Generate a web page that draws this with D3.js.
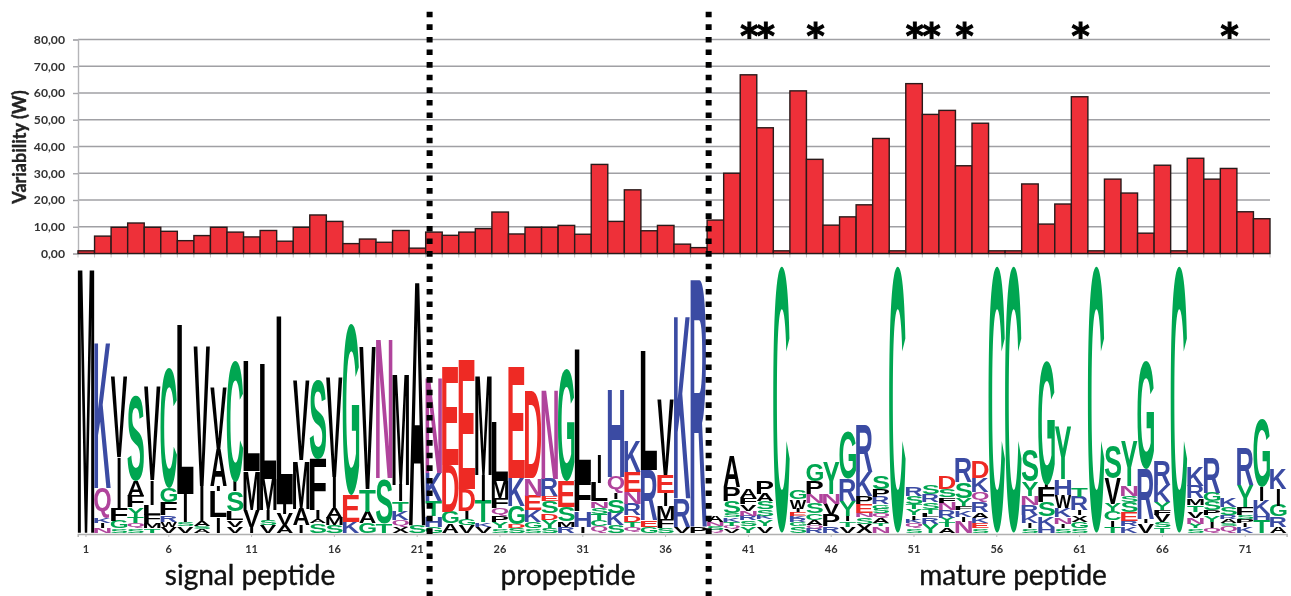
<!doctype html>
<html>
<head>
    <meta charset="UTF-8">
    <title>Variability and sequence logo</title>
    <script src="https://cdn.jsdelivr.net/npm/d3@7"></script>
    <style>
        body { margin: 0; background: #fff; }
        svg { display: block; filter: blur(0.45px); }
        .yaxis text { font-family: Lato, sans-serif; font-weight: 700; font-size: 12.2px; fill: #333; }
        .xaxis text { font-family: Lato, sans-serif; font-weight: 700; font-size: 11px; fill: #333; }
        .ylabel { font-family: Lato, sans-serif; font-weight: 700; font-size: 18px; fill: #222; stroke: #222; stroke-width: 0.4px; }
        .region { font-family: Lato, sans-serif; font-size: 28px; fill: #111; stroke: #111; stroke-width: 0.4px; text-anchor: middle; }
    </style>
</head>
<body>
<script>
    // variability per position (bar chart)
    var barValues = [1, 6.5, 9.8, 11.4, 9.8, 8.3, 4.8, 6.7, 9.8, 8, 6.2, 8.6, 4.6, 9.8, 14.4, 12, 3.7, 5.4, 4.2, 8.6, 2,
        8, 6.8, 8, 9.3, 15.5, 7.3, 9.8, 9.8, 10.5, 7.2, 33.3, 12, 23.8, 8.5, 10.5, 3.5, 2.2,
        12.5, 30, 66.8, 47, 1, 60.8, 35.2, 10.6, 13.7, 18.2, 43, 1, 63.5, 52, 53.5, 32.8, 48.7, 1, 1, 26, 11, 18.5, 58.6, 1,
        27.8, 22.6, 7.6, 33, 1, 35.6, 27.8, 31.8, 15.6, 13];
    var yTicks = [0, 10, 20, 30, 40, 50, 60, 70, 80];
    var starPositions = [41, 42, 45, 51, 52, 54, 61, 70];

    // logo stacks, bottom to top, letter + height in bits
    var logoStacks = [
        "M4.32",
        "N.08 I.08 K.08 Q.49 K2.38",
        "S.07 G.12 F.2 I.84 V1.3",
        "S.07 Q.08 T.11 Y.15 F.19 A.24 S1.38",
        "T.07 M.08 F.14 L.16 I.4 V1.51",
        "V.1 W.08 R.11 F.2 G.24 C1.94",
        "V.11 S.06 I.46 L2.73",
        "A.06 S.05 A.08 I.57 V2.26",
        "I.26 L.41 I.08 A.6 V1",
        "V.1 V.11 L.14 S.32 I.16 C1.97",
        "I.1 V.27 M.63 L1.78",
        "V.12 S.08 I.16 M.51 L1.86",
        "A.12 V.18 I.16 L3.05",
        "I.12 A.27 M.78 V1.29",
        "S.15 A.05 I.16 F.84 S1.27",
        "S.12 M.12 A.16 I.5 V1.62",
        "K.18 E.43 G2.78",
        "G.16 A.18 T.36 V2.3",
        "T.15 S.73 N2.28",
        "X.1 Q.1 K.14 T.17 I.27 M1.8",
        "S.12 A3.99",
        "G.1 H.17 T.24 K.46 N1.55",
        "A.15 G.19 D.76 E1.6",
        "V.12 G.1 I.13 D.35 E2.1",
        "V.1 K.07 T.35 I.41 M1.62",
        "S.07 Y.1 P.1 Q.13 F.16 M.28 L.96",
        "S.08 D.05 G.3 K.46 E1.8",
        "S.07 G.1 K.19 E.24 N.28 D1.42",
        "S.08 Y.12 D.11 S.2 E.08 R.28 N1.46",
        "R.1 M.08 S.24 E.42 G1.81",
        "I.1 H.24 F.5 L2.13",
        "Q.1 C.1 T.1 S.1 N.11 L.3 I.46",
        "S.12 K.2 S.22 I.1 Q.27 H1.43",
        "Q.09 T.09 D.11 R.18 N.19 E.32 K.51",
        "G.1 E.1 R.81 L1.93",
        "S.08 F.15 M.2 I.22 E.29 V1.22",
        "V.1 R.46 K2.98",
        "P.1 R4",
        "Q.05 S.06 N.06 A.1",
        "V.07 Q.04 T.07 K.07 S.07 S.19 P.23 A.51",
        "Y.11 S.09 R.07 N.08 V.11 F.11 A.15",
        "V.11 Y.11 K.05 S.11 S.13 A.12 P.21",
        "C4.32",
        "S.11 G.07 R.05 K.04 E.07 I.05 W.15 G.15",
        "R.07 Q.05 A.09 C.11 S.16 N.15 P.21 G.27",
        "R.1 P.18 V.18 N.17 Y.51",
        "V.1 T.09 I.08 Y.24 R.36 G.76",
        "X.14 S.11 N.07 E.14 P.13 K.39 R.76",
        "N.11 T.05 A.08 Q.07 S.08 G.07 R.12 P.12 S.22",
        "C4.32",
        "S.07 Q.09 K.05 I.07 Y.11 T.08 S.12 R.14",
        "Y.14 R.11 L.05 T.09 S.11 R.12 S.15",
        "A.09 T.08 Y.07 R.12 N.12 F.09 S.13 D.2",
        "N.18 I.08 K.11 F.07 Y.12 S.26 R.39",
        "S.07 E.08 K.09 A.09 R.16 Q.17 K.22 D.26",
        "C4.32",
        "C4.32",
        "S.07 I.09 K.12 R.17 N.15 Y.23 S.51",
        "H.1 K.16 S.23 F.25 I.04 G2",
        "S.07 I.07 N.11 K.15 W.21 H.26 Y.84",
        "S.07 G.11 X.1 I.08 R.22 T.14",
        "C4.32",
        "T.1 I.1 C.15 Y.12 V.41 S.54",
        "K.11 R.08 E.15 S.16 S.1 N.16 Y.73",
        "V.15 I.07 R.81 G1.75",
        "T.09 S.08 V.12 F.08 Y.12 K.28 R.39",
        "C4.32",
        "S.07 Y.07 N.1 V.1 T.11 M.11 R.2 K.32",
        "Q.07 I.1 Y.11 P.08 S.15 G.14 R.55",
        "Q.11 S.05 A.07 R.05 S.13 K.15",
        "K.1 I.05 P.07 S.07 F.12 Y.36 R.6",
        "T.2 H.1 K.22 I.22 G1.1",
        "A.1 R.16 G.18 I.27 K.33"
    ];

    var logoTicks = d3.range(1, 72, 5);
    var regionBoundaries = [21.75, 38.6];
    var regionLabels = ["signal peptide", "propeptide", "mature peptide"];
    var regionCenters = [250, 568, 1013];

    var letterColors = {
        G: "#00a651", S: "#00a651", T: "#00a651", Y: "#00a651", C: "#00a651",
        N: "#b0449c", Q: "#b0449c",
        K: "#3b4ba3", R: "#3b4ba3", H: "#3b4ba3",
        D: "#ee2a24", E: "#ee2a24"
    };

    var width = 1291, height = 596;

    var svg = d3.select("body").append("svg")
        .attr("width", width)
        .attr("height", height);

    // BAR CHART

    var x = d3.scaleBand().domain(d3.range(1, 73)).range([78, 1270]);
    var y = d3.scaleLinear().domain([0, 80]).range([253.5, 39.5]);

    svg.selectAll(".grid")
        .data(yTicks)
        .enter()
        .append("line")
        .attr("class", "grid")
        .attr("x1", 78)
        .attr("x2", 1270)
        .attr("y1", function (d) { return y(d); })
        .attr("y2", function (d) { return y(d); })
        .style("stroke", "#a0a0a4")
        .style("stroke-width", 1.7);

    var yAxis = svg.append("g")
        .attr("class", "yaxis")
        .attr("transform", "translate(78,0)")
        .call(d3.axisLeft(y)
            .tickValues(yTicks)
            .tickSize(5)
            .tickPadding(8)
            .tickFormat(function (d) { return d3.format(".2f")(d).replace(".", ","); }));
    yAxis.selectAll("line").style("stroke", "#a8a8ac").style("stroke-width", 1.4);
    yAxis.select(".domain").style("stroke", "#b5b5b8").style("stroke-width", 1.4);

    // small ticks under the bars
    svg.selectAll(".barTick")
        .data(d3.range(1, 74))
        .enter()
        .append("line")
        .attr("class", "barTick")
        .attr("x1", function (d) { return d < 73 ? x(d) : x(72) + x.bandwidth(); })
        .attr("x2", function (d) { return d < 73 ? x(d) : x(72) + x.bandwidth(); })
        .attr("y1", 253.5)
        .attr("y2", 257.5)
        .style("stroke", "#c4c4c4")
        .style("stroke-width", 1);

    svg.selectAll(".bar")
        .data(barValues)
        .enter()
        .append("rect")
        .attr("class", "bar")
        .attr("x", function (d, i) { return x(i + 1); })
        .attr("width", x.bandwidth())
        .attr("y", function (d) { return y(d); })
        .attr("height", function (d) { return y(0) - y(d); })
        .style("fill", "#ee3039")
        .style("stroke", "#2a1a1a")
        .style("stroke-width", 1.4);

    svg.append("text")
        .attr("class", "ylabel")
        .attr("transform", "translate(26,147) rotate(-90)")
        .style("text-anchor", "middle")
        .text("Variability (W)");

    // LOGO

    var logoX = d3.scaleBand().domain(d3.range(1, 74)).range([77.7, 1286.6]);
    var logoY = d3.scaleLinear().domain([0, 4.32]).range([532.7, 266]);

    // ink box of a glyph, so a letter can be stretched to fill its cell exactly
    var ctx = document.createElement("canvas").getContext("2d");
    var drawGlyph = function (parent, ch, font, x0, x1, yTop, yBottom, color) {
        ctx.font = "bold 100px " + font;
        var m = ctx.measureText(ch);
        var sx = (x1 - x0) / (m.actualBoundingBoxRight + m.actualBoundingBoxLeft);
        var sy = (yBottom - yTop) / (m.actualBoundingBoxAscent + m.actualBoundingBoxDescent);
        return parent.append("text")
            .text(ch)
            .attr("transform", "translate(" + (x0 + m.actualBoundingBoxLeft * sx) + "," + (yBottom - m.actualBoundingBoxDescent * sy) + ") scale(" + sx + "," + sy + ")")
            .style("font-family", font)
            .style("font-weight", "bold")
            .style("font-size", "100px")
            .style("fill", color);
    };

    var logo = svg.append("g").attr("class", "logo");

    logoStacks.forEach(function (stack, i) {
        var pos = i + 1;
        var sum = 0;
        stack.split(" ").forEach(function (token) {
            var ch = token[0];
            var bits = +token.slice(1);
            var left = logoX(pos), w = logoX.bandwidth();
            // I is only a thin stem in the logo
            if (ch === "I") {
                left = left + w * 0.4;
                w = w * 0.2;
            }
            drawGlyph(logo, ch, "'Liberation Sans'", left, left + w, logoY(sum + bits), logoY(sum), letterColors[ch] || "#000");
            sum += bits;
        });
    });

    var xAxis = svg.append("g")
        .attr("class", "xaxis")
        .attr("transform", "translate(0,534)")
        .call(d3.axisBottom(logoX)
            .tickValues(logoTicks)
            .tickSize(3)
            .tickPadding(8));
    xAxis.selectAll("line").style("stroke", "#bdbdbd");
    xAxis.select(".domain").style("stroke", "#b0b0b0").style("stroke-width", 1.4);

    svg.selectAll(".region")
        .data(regionLabels)
        .enter()
        .append("text")
        .attr("class", "region")
        .attr("x", function (d, i) { return regionCenters[i]; })
        .attr("y", 585)
        .text(function (d) { return d; });

    // STARS

    var stars = svg.append("g").attr("class", "stars");
    starPositions.forEach(function (p) {
        var c = x(p) + x.bandwidth() / 2 + 1;
        drawGlyph(stars, "*", "'DejaVu Sans'", c - 8.5, c + 8.5, 21, 38, "#000")
            .style("stroke", "#000")
            .style("stroke-width", 3);
    });

    // REGION BOUNDARIES

    var firstCenter = logoX(1) + logoX.bandwidth() / 2;
    var boundaryX = function (p) { return firstCenter + (p - 1) * logoX.step(); };

    svg.selectAll(".boundary")
        .data(regionBoundaries)
        .enter()
        .append("line")
        .attr("class", "boundary")
        .attr("x1", boundaryX)
        .attr("x2", boundaryX)
        .attr("y1", 11.7)
        .attr("y2", 596)
        .style("stroke", "#000")
        .style("stroke-width", 6)
        .style("stroke-dasharray", "5.6,7");
</script>
</body>
</html>
